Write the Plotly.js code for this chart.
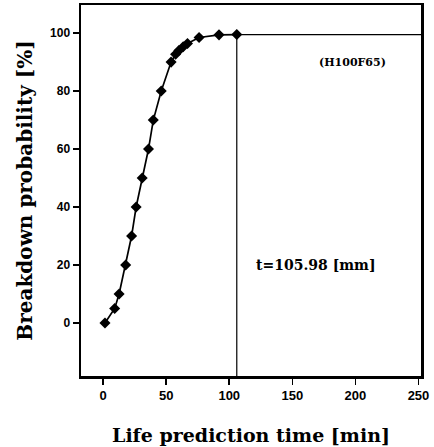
<!DOCTYPE html>
<html>
<head>
<meta charset="utf-8">
<script src="https://cdn.plot.ly/plotly-3.0.1.min.js"></script>
<style>html,body{margin:0;padding:0;background:#fff;}#chart{width:434px;height:447px;}</style>
</head>
<body>
<div id="chart"></div>
<script>
// Data
const lifeTime = [1.5, 9.2, 12.7, 17.9, 22.6, 26.2, 31.0, 36.0, 39.8, 46.1, 53.9, 57.5, 60.1, 63.5, 66.9, 76.1, 91.9, 105.98];
const breakdownProb = [0, 5, 10, 20, 30, 40, 50, 60, 70, 80, 90, 92.7, 94, 95.3, 96.4, 98.5, 99.4, 99.5];
const xTickVals = [0, 50, 100, 150, 200, 250];
const yTickVals = [0, 20, 40, 60, 80, 100];
const predictedTime = 105.98;
const predictedProb = 99.5;
const sampleLabel = '(H100F65)';
const resultLabel = 't=105.98 [mm]';

const xRange = [-17.5, 252];
const yRange = [-18.3, 109.7];

const curve = {
  x: lifeTime, y: breakdownProb, mode: 'lines+markers', type: 'scatter',
  line: {color: '#000', width: 1.7},
  marker: {symbol: 'diamond', size: 8.5, color: '#000'},
  hoverinfo: 'skip', showlegend: false
};
const guide = {
  x: [predictedTime, predictedTime, xRange[1]],
  y: [yRange[0], predictedProb, predictedProb],
  mode: 'lines', type: 'scatter',
  line: {color: '#000', width: 1.2},
  hoverinfo: 'skip', showlegend: false
};

const layout = {
  width: 434, height: 447,
  margin: {l: 81, r: 13, t: 5, b: 71},
  paper_bgcolor: '#fff', plot_bgcolor: '#fff',
  xaxis: {
    range: xRange, tickvals: xTickVals, ticktext: xTickVals.map(String),
    ticks: 'outside', ticklen: 6, tickwidth: 1.5, tickcolor: '#000',
    showline: true, mirror: true, linewidth: 2.5, linecolor: '#000',
    showgrid: false, zeroline: false,
    tickfont: {family: 'Liberation Sans, Arial, sans-serif', size: 13, color: '#000', weight: 'bold'},
    title: {text: 'Life prediction time [min]', standoff: 27,
            font: {family: 'DejaVu Serif, serif', size: 19, color: '#000', weight: 'bold'}}
  },
  yaxis: {
    range: yRange, tickvals: yTickVals, ticktext: yTickVals.map(String),
    ticks: 'outside', ticklen: 6, tickwidth: 1.5, tickcolor: '#000',
    showline: true, mirror: true, linewidth: 2.5, linecolor: '#000',
    showgrid: false, zeroline: false,
    tickfont: {family: 'Liberation Sans, Arial, sans-serif', size: 12, color: '#000', weight: 'bold'},
    title: {text: 'Breakdown probability [%]', standoff: 12,
            font: {family: 'DejaVu Serif, serif', size: 20, color: '#000', weight: 'bold'}}
  },
  annotations: [
    {x: 198, y: 89.7, xref: 'x', yref: 'y', text: sampleLabel, showarrow: false,
     font: {family: 'DejaVu Serif, serif', size: 11, color: '#000', weight: 'bold'}},
    {x: 169, y: 20, xref: 'x', yref: 'y', text: resultLabel, showarrow: false,
     font: {family: 'DejaVu Serif, serif', size: 14, color: '#000', weight: 'bold'}}
  ]
};

Plotly.newPlot('chart', [guide, curve], layout, {staticPlot: true, displayModeBar: false});
</script>
</body>
</html>
